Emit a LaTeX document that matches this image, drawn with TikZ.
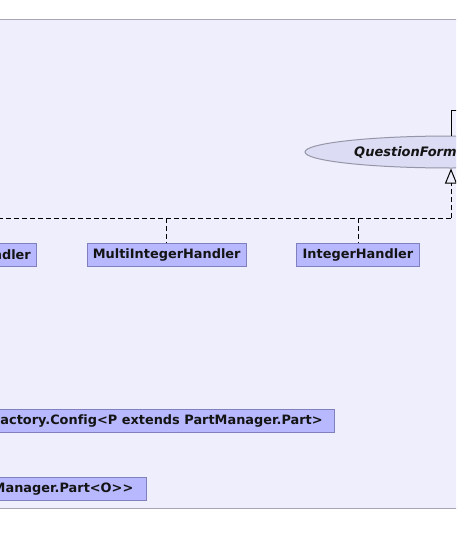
\documentclass[tikz,border=0pt]{standalone}
\usepackage{fontspec}
\setmainfont[Ligatures=NoCommon]{DejaVu Sans}
\usetikzlibrary{arrows.meta,shapes.geometric}
\definecolor{panelbg}{RGB}{238,238,252}
\definecolor{panelline}{RGB}{168,166,178}
\definecolor{boxfill}{RGB}{184,184,255}
\definecolor{boxline}{RGB}{128,128,190}
\definecolor{ellfill}{RGB}{220,220,245}
\definecolor{ellline}{RGB}{150,150,168}
\tikzset{
  classbox/.style={draw=boxline, fill=boxfill, line width=1pt, rectangle,
    minimum height=22.8pt, inner xsep=6pt, inner ysep=0pt,
    font=\fontsize{12.9}{15}\selectfont\bfseries, text=black!92},
  iface/.style={draw=ellline, fill=ellfill, line width=1pt, ellipse,
    minimum width=292pt, minimum height=32pt, inner sep=0pt},
  ifacetext/.style={font=\fontsize{13}{15}\selectfont\bfseries\itshape, inner sep=0pt, text=black!92},
  realize/.style={line width=1pt, dash pattern=on 5pt off 3pt},
  assoc/.style={line width=1pt}
}
\begin{document}
\begin{tikzpicture}[x=1pt,y=-1pt]
\useasboundingbox (0,0) rectangle (456,546);
\clip (0,0) rectangle (456,546);
\fill[white] (0,0) rectangle (456,546);
\draw[panelline, fill=panelbg, line width=1pt] (-10,19.5) rectangle (466,508);

% interface ellipse
\node[iface] (qf) at (451,152) {};
\node[ifacetext, anchor=west] (qft) at (354,152.5) {QuestionForm};

% association going up and right
\coordinate (tr) at (470,110);
\draw[assoc] (qf.north) |- (tr);

% realization tree
\coordinate (hub) at (451,218);
\coordinate (lft) at (-10,218);
\draw[realize, -{Triangle[open, length=15pt, width=12pt, line width=1pt]}] (hub) -- (qf.south);
\draw[realize] (lft) -- (hub);

% handler classes
\node[classbox, anchor=east] (h0) at (37.3,254.6) {Handler};
\node[classbox, minimum width=159pt, inner xsep=0pt] (mih) at (166.7,254.6) {MultiIntegerHandler};
\node[classbox, minimum width=122.6pt, inner xsep=0pt] (ih) at (358,254.6) {IntegerHandler};

\draw[realize] (mih.north |- hub) -- (mih.north);
\draw[realize] (ih.north |- hub) -- (ih.north);

% lower classes
\node[classbox, anchor=east, inner xsep=11.8pt] (cfg) at (335,420.8) {Factory.Config<P extends PartManager.Part>};
\node[classbox, anchor=east, inner xsep=13.5pt] (prt) at (147.3,488.8) {PartManager.Part<O>{}>};
\end{tikzpicture}
\end{document}
